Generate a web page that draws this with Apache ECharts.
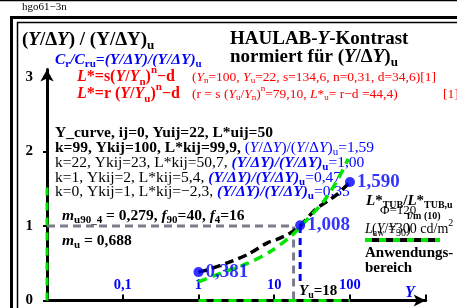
<!DOCTYPE html>
<html>
<head>
<meta charset="utf-8">
<script src="https://cdn.jsdelivr.net/npm/echarts@6/dist/echarts.min.js"></script>
<style>
html, body { margin: 0; padding: 0; background: #fff; }
#chart { width: 457px; height: 308px; }
</style>
</head>
<body>
<div id="chart"></div>
<script>
// Y (log axis) against normalised contrast (Y/dY)/(Y/dY)u
const curveBlackY = [1, 1.3, 2.5, 4.5, 8, 11.5, 16, 22, 35, 67, 100];
const curveBlackV = [0.38, 0.41, 0.51, 0.62, 0.77, 0.83, 0.9, 1.0, 1.22, 1.42, 1.59];
const curveGreenY = [1, 2, 4.5, 9, 17, 28, 45, 67, 95];
const curveGreenV = [0.25, 0.37, 0.5, 0.66, 0.87, 1.1, 1.33, 1.6, 1.9];
const pointY = [1, 22, 100];
const pointV = [0.381, 1.008, 1.590];
const xTicks = [0.1, 1, 10, 100];
const yTicks = [0, 1, 2, 3];
const yuGray = 18;
const yuBlue = 22;
const rangeY = [1, 100];
const rangeV = [0, 1.59];

const serif = '"Liberation Serif", "Times New Roman", serif';
const BLACK = '#000000', BLUE = '#0000ff', RED = '#ff0000', GREEN = '#00e600', GRAY = '#808080';

const zip = (a, b) => a.map((v, i) => [v, b[i]]);

// rich styles: colour k/u/r + n(normal) b(bold) i(italic) bi, s* subscript, p* superscript
function rich(size) {
  const cols = { k: BLACK, u: BLUE, r: RED };
  const out = {};
  const small = Math.round(size * 0.68);
  for (const c in cols) {
    const f = cols[c];
    const base = { fontFamily: serif, fontSize: size, fill: f };
    out[c + 'n'] = Object.assign({}, base);
    out[c + 'b'] = Object.assign({}, base, { fontWeight: 'bold' });
    out[c + 'i'] = Object.assign({}, base, { fontStyle: 'italic' });
    out[c + 'bi'] = Object.assign({}, base, { fontWeight: 'bold', fontStyle: 'italic' });
    const sub = { fontFamily: serif, fontSize: small, fill: f, padding: [Math.round(size * 0.6), 0, 0, 0] };
    const sup = { fontFamily: serif, fontSize: small, fill: f, padding: [0, 0, Math.round(size * 0.8), 0] };
    out[c + 'sn'] = Object.assign({}, sub);
    out[c + 'sb'] = Object.assign({}, sub, { fontWeight: 'bold' });
    out[c + 'pn'] = Object.assign({}, sup);
    out[c + 'pb'] = Object.assign({}, sup, { fontWeight: 'bold' });
  }
  return out;
}

function txt(x, y, size, s) {
  return {
    type: 'text', x: x, y: y, z: 1,
    style: { text: s, rich: rich(size), fontFamily: serif, fontSize: size, fill: BLACK, align: 'left', verticalAlign: 'middle' }
  };
}

function hline(x1, y1, x2, y2, w, color, dash) {
  return {
    type: 'line', z: 1,
    shape: { x1: x1, y1: y1, x2: x2, y2: y2 },
    style: { stroke: color, lineWidth: w, lineDash: dash || null }
  };
}

const frac = '{ubi|(Y/ΔY)/(Y/ΔY)}{usb|u}';

const graphic = [
  // frame
  hline(0, 0.5, 457, 0.5, 1.5, BLACK),
  hline(10, 17.5, 457, 17.5, 3, BLACK),
  hline(11.5, 16, 11.5, 308, 3, BLACK),
  hline(17, 22.5, 457, 22.5, 1.5, BLACK),
  hline(17.5, 22, 17.5, 308, 1.5, BLACK),
  // legend line of the application range
  hline(365, 240, 440, 240, 4, BLACK),
  hline(365, 240, 440, 240, 4, GREEN, [7, 7]),

  txt(22, 7, 11, '{kn|hgo61−3n}'),
  txt(22, 40, 19, '{kb|(}{kbi|Y}{kb|/Δ}{kbi|Y}{kb|) / (Y/ΔY)}{ksb|u}'),
  txt(55, 60, 15.5, '{ubi|C}{usb|r}{ubi|/C}{usb|ru}{ubi|=(Y/ΔY)/(Y/ΔY)}{usb|u}'),
  txt(230, 39, 19, '{kb|HAULAB-}{kbi|Y}{kb|-Kontrast}'),
  txt(230, 57, 19, '{kb|normiert für (}{kbi|Y}{kb|/Δ}{kbi|Y}{kb|)}{ksb|u}'),

  txt(77, 77, 16, '{rbi|L}{rb|*=}{rb|s}{rb|(}{rbi|Y}{rb|/}{rbi|Y}{rsb|n}{rb|)}{rpb|n}{rb|−d}'),
  txt(192, 77, 13.5, '{rn|(}{ri|Y}{rsn|n}{rn|=100, }{ri|Y}{rsn|u}{rn|=22, s=134,6, n=0,31, d=34,6)[1]}'),
  txt(77, 94, 16, '{rbi|L}{rb|*=r (}{rbi|Y}{rb|/}{rbi|Y}{rsb|u}{rb|)}{rpb|n}{rb|−d}'),
  txt(192, 94, 13.5, '{rn|(r = s (}{ri|Y}{rsn|u}{rn|/}{ri|Y}{rsn|n}{rn|)}{rpn|n}{rn|=79,10, }{ri|L}{rn|*}{rsn|u}{rn|= r−d =44,4)}'),
  txt(443, 94, 13.5, '{rn|[1]}'),

  txt(55, 133, 15.5, '{kb|Y_curve, ij=0, Yuij=22, L*uij=50}'),
  txt(55, 148, 15.5, '{kb|k=99, Ykij=100, L*kij=99,9, }{un|(}{ui|Y}{un|/Δ}{ui|Y}{un|)/(}{ui|Y}{un|/Δ}{ui|Y}{un|)}{usn|u}{un|=1,59}'),
  txt(55, 163, 15.5, '{kn|k=22, Ykij=23, L*kij=50,7, }' + frac + '{un|=1,00}'),
  txt(55, 178, 15.5, '{kn|k=1, Ykij=2, L*kij=5,4, }' + frac + '{un|=0,47}'),
  txt(55, 192, 15.5, '{kn|k=0, Ykij=1, L*kij=−2,3, }' + frac + '{un|=0,35}'),

  txt(62, 216, 15.5, '{kbi|m}{ksb|u90_4}{kb| = 0,279, }{kbi|f}{ksb|90}{kb|=40, }{kbi|f}{ksb|4}{kb|=16}'),
  txt(62, 241, 15.5, '{kbi|m}{ksb|u}{kb| = 0,688}'),

  txt(299, 291, 15, '{kbi|Y}{ksb|u}{kb|=18}'),
  txt(405, 293, 16, '{ubi|Y}'),

  txt(366, 201, 15, '{kbi|L}{kb|*}{ksb|TUB}{kb|/}{kbi|L}{kb|*}{ksb|TUB,u}'),
  txt(380, 211, 13, '{kn|Φ=120}'),
  txt(407, 216, 10, '{kb|f/m (10)}'),
  txt(365, 229, 14, '{ki|L}{ksn|aw}{kn| =300 cd/m}{kpn|2}'),
  txt(372, 229, 14, '{kn|(}{ki|Y}{kn|/}{ki|Y}{ksn|30}{kn|)}'),

  txt(365, 253, 15, '{kb|Anwendungs-}'),
  txt(365, 268, 15, '{kb|bereich}')
];

const near = (list, v) => list.find(t => Math.abs(t - v) <= Math.abs(t) * 1e-6 + 1e-9);

const option = {
  animation: false,
  backgroundColor: '#ffffff',
  grid: { left: 47, right: 31.3, top: 69.4, bottom: 3 },
  xAxis: {
    type: 'log', logBase: 10, min: 0.01, max: 1000,
    axisLine: { onZero: false, lineStyle: { color: BLACK, width: 3 }, symbol: ['none', 'arrow'], symbolSize: [9, 12] },
    axisTick: { inside: true, length: 6, lineStyle: { color: BLACK, width: 2 } },
    axisLabel: {
      inside: true, margin: 8, color: BLUE, fontWeight: 'bold', fontSize: 14.5, fontFamily: serif,
      formatter: v => { const t = near(xTicks, v); return t === undefined ? '' : String(t).replace('.', ','); }
    },
    splitLine: { show: false }
  },
  yAxis: {
    type: 'value', min: 0, max: 3.1, interval: 1,
    axisLine: { show: true, onZero: false, lineStyle: { color: BLACK, width: 3 }, symbol: ['none', 'arrow'], symbolSize: [10, 12] },
    axisTick: { show: true, length: 4, lineStyle: { color: BLACK, width: 2 } },
    axisLabel: {
      margin: 14, color: BLACK, fontWeight: 'bold', fontSize: 15, fontFamily: serif, showMaxLabel: false,
      formatter: v => { const t = near(yTicks, v); return t === undefined ? '' : String(t); }
    },
    splitLine: { show: false }
  },
  graphic: graphic,
  series: [
    {
      type: 'line', data: [[0.01, 1], [yuGray, 1], [yuGray, 0]], symbol: 'none', clip: false, z: 2,
      lineStyle: { color: '#7c7c8c', width: 3, type: [8, 5] }
    },
    {
      type: 'line', data: [[yuBlue, 1], [yuBlue, 0.2]], symbol: 'none', clip: false, z: 2,
      lineStyle: { color: BLUE, width: 3, type: [7, 5] }
    },
    {
      type: 'line', data: zip(rangeY, [0, 0]), symbol: 'none', clip: false, z: 3,
      lineStyle: { color: GREEN, width: 3, type: [8, 7] }
    },
    {
      type: 'line', data: zip([0.01, 0.01], rangeV), symbol: 'none', clip: false, z: 3,
      lineStyle: { color: GREEN, width: 3, type: [8, 7] }
    },
    {
      type: 'line', data: zip(curveBlackY, curveBlackV), smooth: 0.3, symbol: 'none', clip: false, z: 3,
      lineStyle: { color: BLACK, width: 3.5, type: [9, 5] }
    },
    {
      type: 'line', data: zip(curveGreenY, curveGreenV), smooth: 0.3, symbol: 'none', clip: false, z: 4,
      lineStyle: { color: GREEN, width: 3.5, type: [9, 6] }
    },
    {
      type: 'scatter', data: zip(pointY, pointV), symbolSize: 10, z: 5,
      itemStyle: { color: BLUE },
      label: {
        show: true, position: 'right', distance: 2, color: BLUE, fontWeight: 'bold', fontSize: 19, fontFamily: serif,
        formatter: p => p.value[1].toFixed(3).replace('.', ',')
      }
    }
  ]
};

const chart = echarts.init(document.getElementById('chart'), null, { renderer: 'canvas' });
chart.setOption(option);
</script>
</body>
</html>
